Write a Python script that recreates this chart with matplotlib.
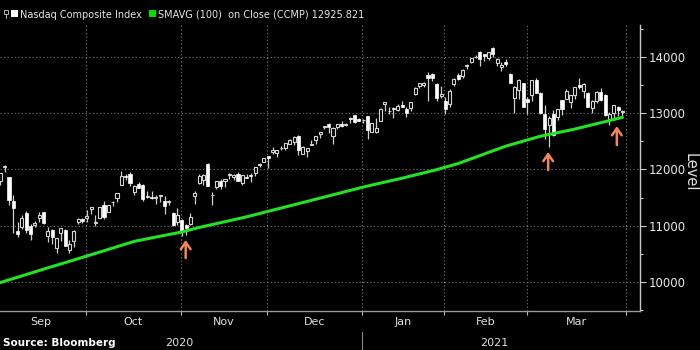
import matplotlib
matplotlib.use('Agg')
import matplotlib.pyplot as plt
import matplotlib.transforms as mtransforms
from matplotlib.patches import Rectangle
from matplotlib.lines import Line2D
from matplotlib.ticker import FixedLocator, MultipleLocator, StrMethodFormatter, NullFormatter
import numpy as np

# ---------------- data (trading days 1 Sep 2020 .. 30 Mar 2021) ----------------
opens = [
    11802, 12047, 11861, 11437, 10905, 10983, 11222, 10997, 11016, 11140, 11238, 10826, 10925, 10604, 10867, 10920, 10568, 10729, 11065, 11117, 11130,
    11295, 11055, 11144, 11360, 11245, 11422, 11488, 11723, 11882, 11914, 11592, 11737, 11722, 11533, 11504, 11495, 11535, 11446, 11416, 11232, 11064, 11103,
    11010, 11032, 11524, 11766, 11817, 12095, 11541, 11690, 11797, 11788, 11908, 11870, 11920, 11760, 11874, 11900, 11946, 12084, 12141, 12240,
    12314, 12296, 12374, 12389, 12461, 12484, 12587, 12280, 12331, 12440, 12525, 12633, 12755, 12812, 12591, 12760, 12815, 12792, 12914, 12965, 12906, 12877,
    12958, 12665, 12666, 12867, 13160, 13048, 13091, 13065, 13150, 13082, 13096, 13339, 13476, 13494, 13672, 13700, 13528, 13308, 13219,
    13162, 13522, 13687, 13654, 13834, 13917, 13996, 14091, 14054, 13983, 14158, 13888, 13818, 13910, 13693, 13275, 13407, 13533, 13250,
    13331, 13596, 13355, 12983, 12788, 12985, 12931, 13231, 13259, 13201, 13318, 13510, 13404, 13353, 13090, 13223, 13386, 13321, 12882, 12997, 13110, 13029,
]
highs = [
    11945, 12074, 11862, 11548, 11067, 11190, 11255, 11022, 11085, 11245, 11252, 10975, 10938, 10782, 10966, 10936, 10751, 10923, 11130, 11142, 11280,
    11334, 11186, 11332, 11447, 11373, 11445, 11580, 11967, 11920, 11949, 11728, 11780, 11735, 11609, 11626, 11555, 11548, 11530, 11466, 11251, 11318, 11117,
    11024, 11220, 11622, 11919, 11920, 12109, 11604, 11803, 11830, 11837, 11941, 11913, 11947, 11906, 11914, 11930, 12038, 12124, 12212, 12246,
    12393, 12349, 12419, 12464, 12542, 12587, 12607, 12426, 12379, 12532, 12601, 12661, 12770, 12820, 12749, 12812, 12856, 12833, 12930, 12967, 12924, 12902,
    12958, 12828, 12909, 13090, 13208, 13113, 13103, 13164, 13212, 13116, 13200, 13463, 13541, 13560, 13728, 13719, 13531, 13478, 13283,
    13427, 13631, 13719, 13778, 13878, 13991, 14042, 14109, 14062, 14095, 14175, 13986, 13904, 13964, 13723, 13483, 13604, 13535, 13290,
    13594, 13621, 13383, 13152, 12955, 13064, 13073, 13244, 13426, 13321, 13460, 13618, 13535, 13380, 13241, 13404, 13445, 13350, 13016, 13149, 13128, 13062,
]
lows = [
    11731, 11960, 11366, 10875, 10795, 10939, 10863, 10747, 10985, 11069, 11037, 10705, 10677, 10519, 10731, 10632, 10520, 10627, 11029, 11049, 11071,
    11216, 10993, 11130, 11121, 11240, 11347, 11429, 11718, 11808, 11706, 11554, 11668, 11443, 11496, 11468, 11385, 11414, 11209, 11370, 10994, 11019, 10822,
    10830, 11010, 11378, 11734, 11731, 11709, 11362, 11650, 11652, 11693, 11824, 11808, 11801, 11724, 11854, 11775, 11888, 12040, 12134, 12030,
    12275, 12229, 12338, 12355, 12452, 12440, 12252, 12271, 12220, 12430, 12460, 12555, 12717, 12657, 12453, 12726, 12763, 12767, 12827, 12829, 12857, 12821,
    12543, 12665, 12649, 12867, 13036, 12983, 12910, 13034, 13112, 12942, 13044, 13317, 13446, 13472, 13225, 13574, 13222, 13272, 12985,
    13107, 13476, 13599, 13627, 13782, 13886, 13977, 13843, 13930, 13948, 14004, 13833, 13746, 13848, 13529, 12998, 13245, 13107, 12990,
    13226, 13355, 12987, 12550, 12397, 12602, 12880, 12960, 13256, 13102, 13254, 13424, 13278, 13116, 13003, 13175, 13216, 12957, 12787, 12884, 12947, 12943,
]
closes = [
    11939, 12056, 11458, 11313, 10847, 11141, 10919, 10853, 11056, 11190, 11050, 10910, 10793, 10779, 10964, 10633, 10672, 10914, 11117, 11086, 11168,
    11326, 11075, 11332, 11154, 11364, 11420, 11580, 11876, 11864, 11768, 11714, 11672, 11479, 11517, 11485, 11506, 11548, 11358, 11431, 11005, 11186, 10912,
    10957, 11161, 11590, 11891, 11895, 11713, 11554, 11787, 11710, 11830, 11925, 11899, 11802, 11905, 11855, 11881, 12037, 12094, 12206, 12199,
    12355, 12349, 12377, 12464, 12520, 12583, 12339, 12406, 12378, 12440, 12596, 12658, 12765, 12756, 12742, 12807, 12772, 12805, 12899, 12850, 12870, 12888,
    12698, 12819, 12741, 13067, 13202, 13036, 13072, 13128, 13112, 12998, 13197, 13457, 13530, 13543, 13635, 13626, 13271, 13337, 13070,
    13403, 13612, 13610, 13777, 13856, 13988, 14007, 13973, 14025, 14095, 14047, 13966, 13865, 13874, 13533, 13465, 13598, 13119, 13192,
    13589, 13359, 12998, 12723, 12920, 12609, 13073, 13069, 13399, 13320, 13460, 13472, 13525, 13116, 13215, 13378, 13227, 12962, 12978, 13139, 13059, 13045,
]
sma100 = [
    9990, 10013, 10038, 10061, 10085, 10108, 10133, 10156, 10180, 10205, 10229, 10251, 10275, 10297, 10320, 10344, 10367, 10390, 10414, 10437, 10460,
    10484, 10508, 10532, 10556, 10581, 10604, 10628, 10652, 10676, 10700, 10722, 10738, 10753, 10768, 10783, 10798, 10812, 10827, 10843, 10858, 10873, 10889,
    10909, 10929, 10949, 10969, 10986, 11003, 11020, 11037, 11054, 11071, 11088, 11105, 11122, 11139, 11158, 11178, 11197, 11217, 11237, 11256,
    11276, 11295, 11315, 11334, 11354, 11373, 11393, 11412, 11432, 11451, 11471, 11490, 11510, 11530, 11550, 11570, 11590, 11609, 11629, 11649, 11669, 11688,
    11706, 11723, 11741, 11758, 11776, 11793, 11811, 11828, 11845, 11864, 11883, 11902, 11921, 11940, 11959, 11978, 11997, 12019, 12041,
    12063, 12085, 12107, 12135, 12163, 12191, 12219, 12247, 12275, 12303, 12331, 12359, 12387, 12415, 12437, 12459, 12481, 12503, 12525,
    12547, 12569, 12591, 12607, 12623, 12639, 12655, 12671, 12687, 12703, 12719, 12738, 12757, 12776, 12795, 12814, 12832, 12851, 12870, 12889, 12908, 12925.821,
]
month_labels = ['Sep', 'Oct', 'Nov', 'Dec', 'Jan', 'Feb', 'Mar']
month_start_idx = [0, 21, 43, 63, 85, 104, 123, 146]   # first trading day of each month (+ Apr)
year_labels = ['2020', '2021']
year_first_month = [0, 4]   # index into month_start_idx
arrow_idx = [42.9, 126.8, 142.7]
arrow_tail = [10425, 11990, 12435]
arrow_head = [10745, 12310, 12770]
legend_value = '12925.821'

# ---------------- figure ----------------
W, H = 700, 350
fig = plt.figure(figsize=(7, 3.5), dpi=100, facecolor='black')
ax = fig.add_axes([0, 39 / H, 640 / W, 286 / H], facecolor='black')

o = np.array(opens, float); h = np.array(highs, float)
l = np.array(lows, float); c = np.array(closes, float)
x = np.arange(len(c))
up = c >= o

ax.vlines(x, l, h, color='#cfcfcf', lw=0.9, zorder=2)
bb = np.minimum(o, c)
bh = np.maximum(np.abs(c - o), 8)
ax.bar(x[up], bh[up], bottom=bb[up], width=0.7, facecolor='black',
       edgecolor='#d4d4d4', lw=0.8, zorder=3)
ax.bar(x[~up], bh[~up], bottom=bb[~up], width=0.72, facecolor='white',
       edgecolor='white', lw=0.5, zorder=3)

ax.plot(x, sma100, color='#26e026', lw=2.2, zorder=4, solid_capstyle='round')

for xi, t, hd in zip(arrow_idx, arrow_tail, arrow_head):
    ax.annotate('', xy=(xi, hd), xytext=(xi, t),
                arrowprops=dict(arrowstyle='->,head_length=0.5,head_width=0.35',
                                color='#f0885a', lw=1.8, shrinkA=0, shrinkB=0),
                zorder=5)

ax.set_xlim(-0.083, 148.06)
ax.set_ylim(9484, 14569)

# month boundaries (grid + ticks) and month label positions
bounds = [s - 1.2 for s in month_start_idx]
centers = [(bounds[i] + bounds[i + 1]) / 2 for i in range(len(month_labels))]
ax.xaxis.set_major_locator(FixedLocator(bounds[1:]))
ax.xaxis.set_major_formatter(NullFormatter())
ax.xaxis.set_minor_locator(FixedLocator(centers))
ax.set_xticklabels(month_labels, minor=True)
ax.tick_params(axis='x', which='major', direction='out', length=3, width=0.8, color='#bbbbbb')
ax.tick_params(axis='x', which='minor', length=0, pad=4, labelsize=8, labelcolor='#e0e0e0')

ax.yaxis.tick_right()
ax.yaxis.set_label_position('right')
ax.yaxis.set_major_locator(MultipleLocator(1000))
ax.yaxis.set_minor_locator(MultipleLocator(500))
ax.yaxis.set_major_formatter(StrMethodFormatter('{x:.0f}'))
ax.tick_params(axis='y', which='major', direction='out', length=4, width=0.8,
               color='#cccccc', labelcolor='#e6e6e6', labelsize=8.5, pad=2)
ax.tick_params(axis='y', which='minor', direction='out', length=2.5, width=0.8, color='#cccccc')

ax.grid(True, which='major', axis='both', color='#7a7a7a', lw=0.8, ls=(0, (1, 2.2)))
ax.set_axisbelow(True)

for s in ['left', 'top']:
    ax.spines[s].set_visible(False)
ax.spines['right'].set_color('#c8c8c8')
ax.spines['bottom'].set_color('#9a9a9a')
ax.spines['right'].set_linewidth(1.0)
ax.spines['bottom'].set_linewidth(1.0)

# year labels and separator
trans = mtransforms.blended_transform_factory(ax.transData, ax.transAxes)
yr_bounds = [bounds[year_first_month[0]], bounds[year_first_month[1]], bounds[-1]]
for i, lab in enumerate(year_labels):
    ax.text((yr_bounds[i] + yr_bounds[i + 1]) / 2, -0.112, lab, transform=trans,
            ha='center', va='center', fontsize=8, color='#e0e0e0', clip_on=False)
ax.add_line(Line2D([yr_bounds[1], yr_bounds[1]], [-0.073, -0.15], transform=trans,
                   color='#8a8a8a', lw=0.8, clip_on=False))

fig.text(690 / W, 1 - 172 / H, 'Level', rotation=270, ha='center', va='center',
         fontsize=10.5, color='#e0e0e0')
fig.text(3 / W, 1 - 343 / H, 'Source: Bloomberg', fontsize=7.5, fontweight='bold',
         color='white', ha='left', va='center')

# legend
def px_rect(x0, y0, w, h_, **kw):
    fig.patches.append(Rectangle((x0 / W, 1 - (y0 + h_) / H), w / W, h_ / H,
                                 transform=fig.transFigure, figure=fig, **kw))

px_rect(4, 10.5, 3.5, 3.5, facecolor='none', edgecolor='#bbbbbb', lw=0.7)
fig.lines.append(Line2D([5.8 / W, 5.8 / W], [1 - 14 / H, 1 - 18 / H], transform=fig.transFigure,
                        color='#bbbbbb', lw=0.7))
px_rect(11, 10, 7, 7, facecolor='white', edgecolor='none')
fig.text(20 / W, 1 - 14.5 / H, 'Nasdaq Composite Index', fontsize=7, color='#e6e6e6',
         ha='left', va='center')
px_rect(149, 10, 7, 7, facecolor='#00e000', edgecolor='none')
fig.text(158 / W, 1 - 14.5 / H, 'SMAVG (100)  on Close (CCMP) ' + legend_value, fontsize=7,
         color='#e6e6e6', ha='left', va='center')

fig.savefig('out.png', dpi=100, facecolor='black')
